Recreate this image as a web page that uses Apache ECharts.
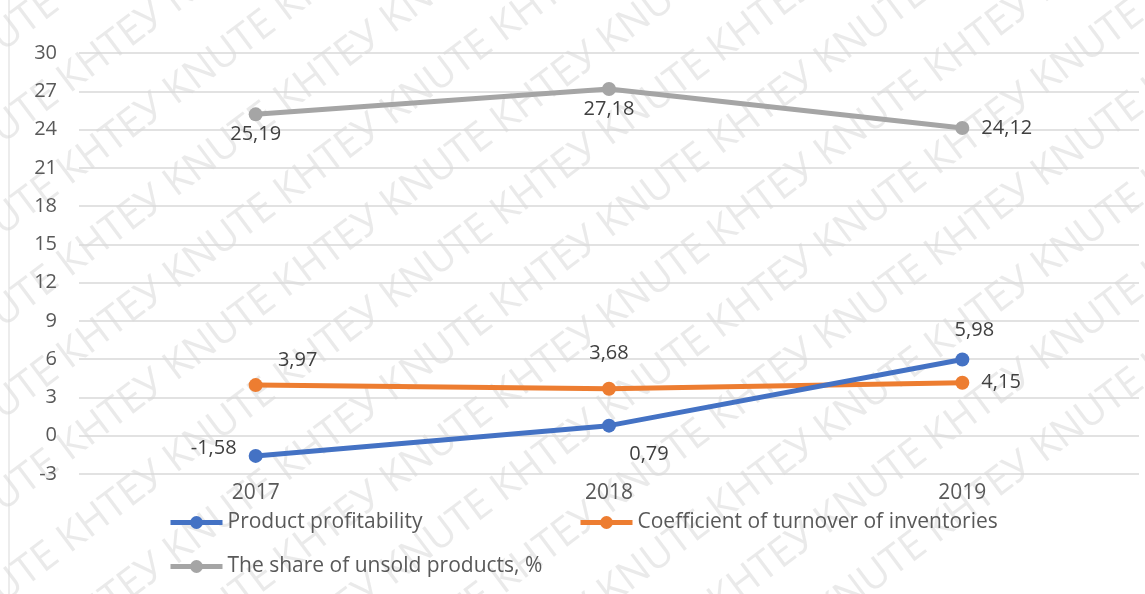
<!DOCTYPE html>
<html>
<head>
<meta charset="utf-8">
<script src="https://cdn.jsdelivr.net/npm/echarts@6/dist/echarts.min.js"></script>
<style>
html,body{margin:0;padding:0;background:#fff;}
#chart{width:1145px;height:594px;}
</style>
</head>
<body>
<div id="chart"></div>
<script>
const categories = ['2017', '2018', '2019'];
const profitability = [-1.58, 0.79, 5.98];
const turnover = [3.97, 3.68, 4.15];
const unsoldShare = [25.19, 27.18, 24.12];
const seriesNames = ['Product profitability', 'Coefficient of turnover of inventories', 'The share of unsold products, %'];
const yMin = -3, yMax = 30, yStep = 3;

const FONT = '"Open Sans", "Noto Sans", sans-serif';
const fmt = p => String(p.value).replace('.', ',');
const labelBase = { show: true, fontSize: 20, color: '#404040', fontFamily: FONT, formatter: fmt };

// watermark text rows
const wm = [];
const wmText = 'KNUTE КНТЕУ KNUTE КНТЕУ KNUTE КНТЕУ KNUTE КНТЕУ KNUTE КНТЕУ KNUTE КНТЕУ';
for (let i = -6; i < 14; i++) {
  wm.push({
    type: 'text',
    x: -60,
    y: 60 + i * 92,
    rotation: 37 * Math.PI / 180,
    z: -10,
    silent: true,
    style: { text: wmText, fill: 'rgba(190,190,190,0.32)', font: '40px ' + FONT }
  });
}
wm.push({ type: 'line', shape: { x1: 9, y1: 0, x2: 9, y2: 594 }, style: { stroke: '#d9d9d9', lineWidth: 1 }, silent: true });

const legendText = { fontSize: 21, color: '#595959', fontFamily: FONT };
const legendCommon = { itemWidth: 52, itemHeight: 16, itemGap: 0, textStyle: legendText, lineStyle: { width: 5 } };
const chart = echarts.init(document.getElementById('chart'));
chart.setOption({
  backgroundColor: '#fff',
  animation: false,
  graphic: wm,
  grid: { left: 79, right: 6, top: 53, bottom: 120 },
  legend: [
    Object.assign({ data: [seriesNames[0]], left: 163, top: 507 }, legendCommon),
    Object.assign({ data: [seriesNames[1]], left: 573, top: 507 }, legendCommon),
    Object.assign({ data: [seriesNames[2]], left: 163, top: 551 }, legendCommon)
  ],
  xAxis: {
    type: 'category',
    data: categories,
    boundaryGap: true,
    axisLine: { show: false },
    axisTick: { show: false },
    axisLabel: { fontSize: 21, color: '#595959', fontFamily: FONT, margin: 9 }
  },
  yAxis: {
    type: 'value',
    min: yMin, max: yMax, interval: yStep,
    axisLine: { show: false },
    axisTick: { show: false },
    splitLine: { lineStyle: { color: '#d9d9d9', width: 1.5 } },
    axisLabel: { fontSize: 20, color: '#595959', fontFamily: FONT, margin: 22 }
  },
  series: [
    {
      name: seriesNames[0], type: 'line', data: profitability.map((v, i) => {
        const lbl = [
          { position: 'left', distance: 12, offset: [0, -8] },
          { position: 'bottom', distance: 12, offset: [40, 0] },
          { position: 'top', distance: 12, offset: [12, 0] }
        ][i];
        return { value: v, label: lbl };
      }),
      color: '#4472C4', lineStyle: { width: 5 }, symbol: 'circle', symbolSize: 14,
      label: labelBase, z: 3
    },
    {
      name: seriesNames[1], type: 'line', data: turnover.map((v, i) => {
        const lbl = [
          { position: 'top', distance: 8, offset: [42, 0] },
          { position: 'top', distance: 18, offset: [0, 0] },
          { position: 'right', distance: 12, offset: [0, 0] }
        ][i];
        return { value: v, label: lbl };
      }),
      color: '#ED7D31', lineStyle: { width: 5 }, symbol: 'circle', symbolSize: 14,
      label: labelBase, z: 2
    },
    {
      name: seriesNames[2], type: 'line', data: unsoldShare.map((v, i) => {
        const lbl = [
          { position: 'bottom', distance: 3 },
          { position: 'bottom', distance: 3 },
          { position: 'right', distance: 12 }
        ][i];
        return { value: v, label: lbl };
      }),
      color: '#A5A5A5', lineStyle: { width: 5 }, symbol: 'circle', symbolSize: 14,
      label: labelBase, z: 1
    }
  ]
});
</script>
</body>
</html>
